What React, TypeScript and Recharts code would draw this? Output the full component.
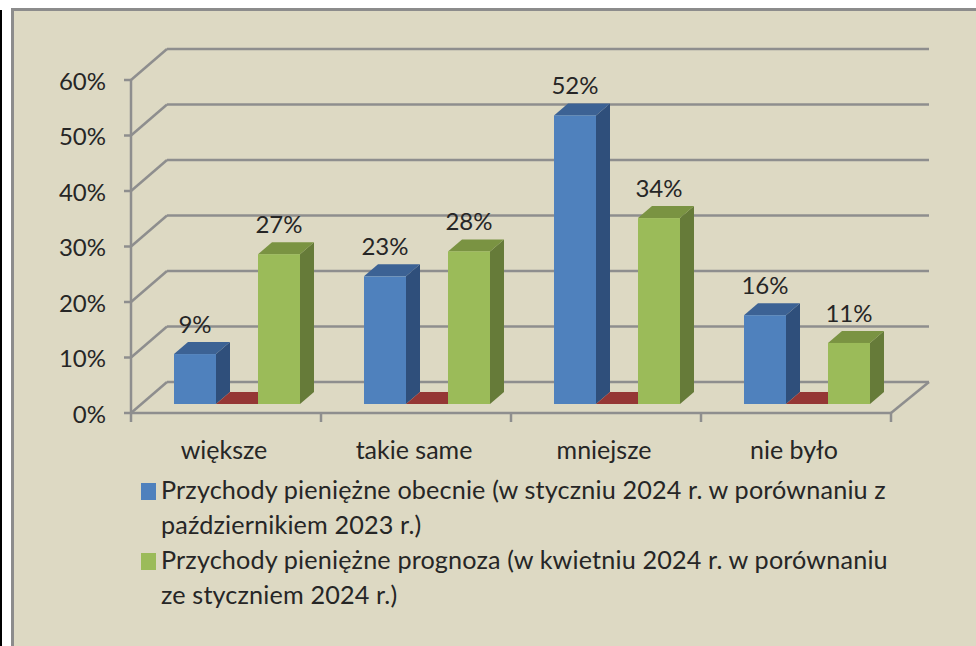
import React from 'react';
import { BarChart, Bar, XAxis, YAxis, CartesianGrid, Legend } from 'recharts';

const categories = ['większe', 'takie same', 'mniejsze', 'nie było'];
const obecnie = [9, 23, 52, 16];
const ukryta = [0, 0, 0, 0];
const prognoza = [27, 27.5, 33.5, 11];
const yTicks = [0, 10, 20, 30, 40, 50, 60];
const nameObecnie = 'Przychody pieniężne obecnie (w styczniu 2024 r. w porównaniu z\npaździernikiem 2023 r.)';
const namePrognoza = 'Przychody pieniężne prognoza (w kwietniu 2024 r. w porównaniu\nze styczniem 2024 r.)';

const data = categories.map((name, i) => ({
  name,
  obecnie: obecnie[i],
  ukryta: ukryta[i],
  prognoza: prognoza[i],
}));

const FONT = 'Lato, sans-serif';
const TEXT = '#262626';
const LINE = '#8e8e8e';
// 3D look: the wall sits back from the front axis, bars stand on the floor
const WALL_DX = 36;
const WALL_DY = -31;
const WALL_RIGHT = 929;
const BAR_DX = 11;
const BAR_DY = -9;
const DEPTH_X = 14;
const DEPTH_Y = -12;
const BAND = 190;

const shades: Record<string, { side: string; top: string }> = {
  '#4f81bd': { side: '#2f4f7b', top: '#3c6294' },
  '#953735': { side: '#7a2c2a', top: '#953735' },
  '#9bbb59': { side: '#667b39', top: '#7a9342' },
};

const Bar3D = (props: any) => {
  const { x, y, width, height, fill } = props;
  const left = x + BAR_DX;
  const right = left + width;
  const top = y + BAR_DY;
  const bottom = top + height;
  const { side, top: topFill } = shades[fill];
  return (
    <g>
      <polygon
        points={`${right},${top} ${right + DEPTH_X},${top + DEPTH_Y} ${right + DEPTH_X},${bottom + DEPTH_Y} ${right},${bottom}`}
        fill={side}
      />
      <polygon
        points={`${left},${top} ${left + DEPTH_X},${top + DEPTH_Y} ${right + DEPTH_X},${top + DEPTH_Y} ${right},${top}`}
        fill={topFill}
      />
      {height > 0 && <rect x={left} y={top} width={width} height={height} fill={fill} />}
    </g>
  );
};

const renderLabel = (props: any) => {
  const { x, y, width, value } = props;
  return (
    <text
      x={x + width / 2 + BAR_DX}
      y={y + BAR_DY - 21}
      textAnchor="middle"
      fontFamily={FONT}
      fontSize={24}
      fill={TEXT}
    >
      {`${Math.round(value)}%`}
    </text>
  );
};

const renderGridLine = (props: any) => {
  const { x1, x2, y1, key } = props;
  return (
    <g key={key ?? y1}>
      <line x1={x1} y1={y1} x2={x1 + WALL_DX} y2={y1 + WALL_DY} stroke={LINE} strokeWidth={2.5} />
      <line x1={x1 + WALL_DX} y1={y1 + WALL_DY} x2={WALL_RIGHT} y2={y1 + WALL_DY} stroke={LINE} strokeWidth={2.5} />
      {y1 > 400 && (
        <line x1={x2} y1={y1} x2={WALL_RIGHT} y2={y1 + WALL_DY} stroke={LINE} strokeWidth={2.5} />
      )}
    </g>
  );
};

const CategoryTick = (props: any) => {
  const { x, y, payload, index } = props;
  return (
    <g>
      <line x1={x - BAND / 2} y1={y - 8} x2={x - BAND / 2} y2={y + 1} stroke={LINE} strokeWidth={2.5} />
      {index === categories.length - 1 && (
        <line x1={x + BAND / 2} y1={y - 8} x2={x + BAND / 2} y2={y + 1} stroke={LINE} strokeWidth={2.5} />
      )}
      <text x={x - 2} y={y + 38} textAnchor="middle" fontFamily={FONT} fontSize={25} fill={TEXT}>
        {payload.value}
      </text>
    </g>
  );
};

const renderLegend = (props: any) => (
  <div style={{ fontFamily: FONT, fontSize: 25.2, letterSpacing: 0.15, lineHeight: '35px', color: TEXT }}>
    {props.payload
      .filter((item: any) => item.type !== 'none')
      .map((item: any) => (
        <div key={item.value} style={{ position: 'relative', paddingLeft: 161, whiteSpace: 'pre-line' }}>
          <span
            style={{ position: 'absolute', left: 141, top: 11, width: 15, height: 17, background: item.color }}
          />
          {item.value}
        </div>
      ))}
  </div>
);

export default function App() {
  return (
    <div style={{ position: 'fixed', left: 0, top: 0, width: 976, height: 646, background: '#fff', overflow: 'hidden' }}>
      <div style={{ position: 'absolute', left: 0, top: 10, width: 2, height: 636, background: '#000' }} />
      <div
        style={{
          position: 'absolute',
          left: 11,
          top: 8,
          width: 965,
          height: 638,
          boxSizing: 'border-box',
          background: '#ddd9c3',
          borderLeft: '3px solid #8c8c8c',
          borderTop: '3px solid #8c8c8c',
        }}
      />
      <div style={{ position: 'absolute', left: 0, top: 0 }}>
        <BarChart
          width={976}
          height={646}
          data={data}
          barSize={42}
          barGap={0}
          barCategoryGap={32}
          margin={{ top: 80, right: 85, bottom: 193, left: 71 }}
        >
          <CartesianGrid vertical={false} horizontal={renderGridLine} />
          <XAxis
            dataKey="name"
            height={40}
            interval={0}
            tick={<CategoryTick />}
            tickLine={false}
            axisLine={{ stroke: LINE, strokeWidth: 2.5 }}
          />
          <YAxis
            width={60}
            domain={[0, 60]}
            ticks={yTicks}
            interval={0}
            tickFormatter={(v: number) => `${v}%`}
            tickSize={7}
            tickMargin={18}
            tick={{ fontFamily: FONT, fontSize: 24, fill: TEXT, dy: 1 }}
            tickLine={{ stroke: LINE, strokeWidth: 2.5 }}
            axisLine={{ stroke: LINE, strokeWidth: 2.5 }}
          />
          <Legend
            layout="horizontal"
            verticalAlign="middle"
            align="center"
            wrapperStyle={{ left: 0, top: 472, width: 976 }}
            content={renderLegend}
          />
          <Bar dataKey="obecnie" name={nameObecnie} fill="#4f81bd" shape={<Bar3D />} label={renderLabel} isAnimationActive={false} />
          <Bar dataKey="ukryta" name="ukryta" legendType="none" fill="#953735" shape={<Bar3D />} isAnimationActive={false} />
          <Bar dataKey="prognoza" name={namePrognoza} fill="#9bbb59" shape={<Bar3D />} label={renderLabel} isAnimationActive={false} />
        </BarChart>
      </div>
    </div>
  );
}
